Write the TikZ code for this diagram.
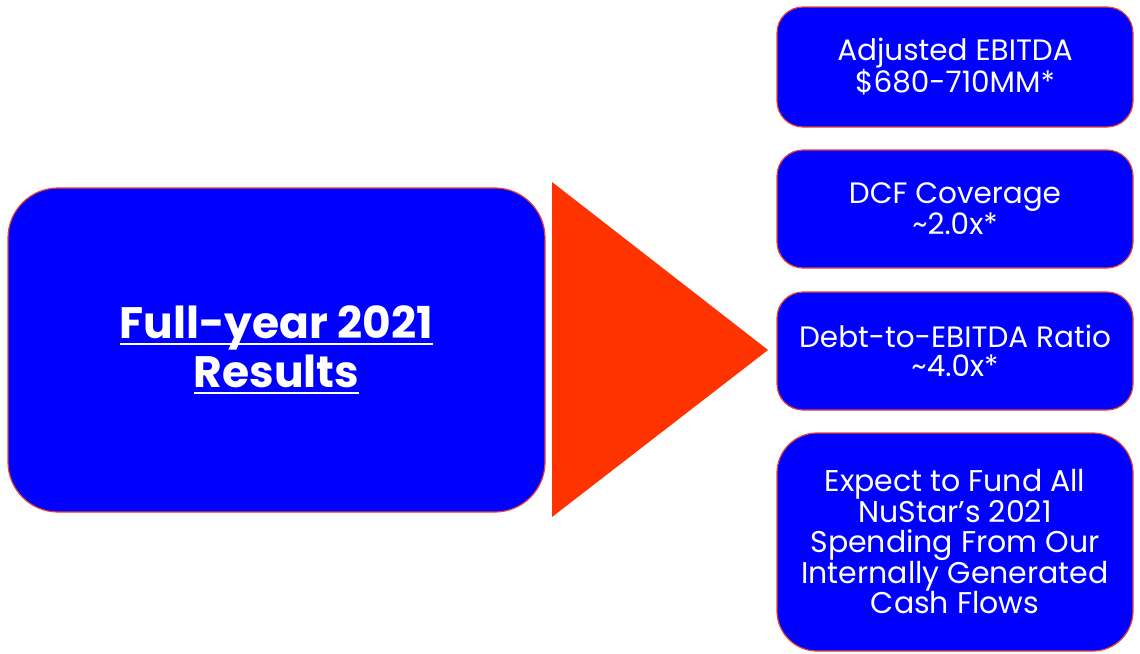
\documentclass[tikz,border=0pt]{standalone}
\usepackage{fontspec}
\setmainfont{Poppins}
\definecolor{boxblue}{HTML}{0000FF}
\definecolor{edgered}{HTML}{E8452C}
\definecolor{arrowred}{HTML}{FF3300}
% underline drawn at a fixed distance below the baseline
\newcommand\barunder[1]{\setbox0\hbox{#1}\rlap{\rule[-7pt]{\wd0}{2.6pt}}\box0}
\begin{document}
\begin{tikzpicture}[x=1pt,y=-1pt,
  card/.style={draw=edgered, line width=1.2pt, fill=boxblue, text=white,
    align=center, inner sep=0pt, rounded corners=#1},
  card/.default=26pt,
  smalltxt/.style={font=\fontsize{29.5}{28.5}\selectfont},
  bigtxt/.style={font=\fontsize{44}{49}\selectfont\bfseries}]
\useasboundingbox (0,0) rectangle (1140,653);

% summary box on the left
\node[card=50pt, bigtxt, minimum width=537pt, minimum height=324pt] (res) at (276.5,350)
  {\barunder{Full-year 2021}\\\barunder{Results}};

% pointer between the two sides
\coordinate (tl) at (552,182);
\coordinate (bl) at (552,517);
\coordinate (tip) at (768,350);
\fill[arrowred] (tl) -- (tip) -- (bl) -- cycle;

% outlook boxes on the right
\node[card, smalltxt, minimum width=356pt, minimum height=120pt] (ebitda) at (955,67)
  {Adjusted EBITDA\\\$680-710MM*};
\node[card, smalltxt, minimum width=356pt, minimum height=118pt] (dcf) at (955,209)
  {DCF Coverage\\\textasciitilde2.0x*};
\node[card, smalltxt, minimum width=356pt, minimum height=118pt] (debt) at (955,351)
  {Debt-to-EBITDA Ratio\\\textasciitilde4.0x*};
\node[card=40pt, font=\fontsize{30}{30.5}\selectfont, minimum width=356pt, minimum height=218pt] (fund) at (955,542)
  {Expect to Fund All\\NuStar’s 2021\\Spending From Our\\Internally Generated\\Cash Flows};
\end{tikzpicture}
\end{document}
